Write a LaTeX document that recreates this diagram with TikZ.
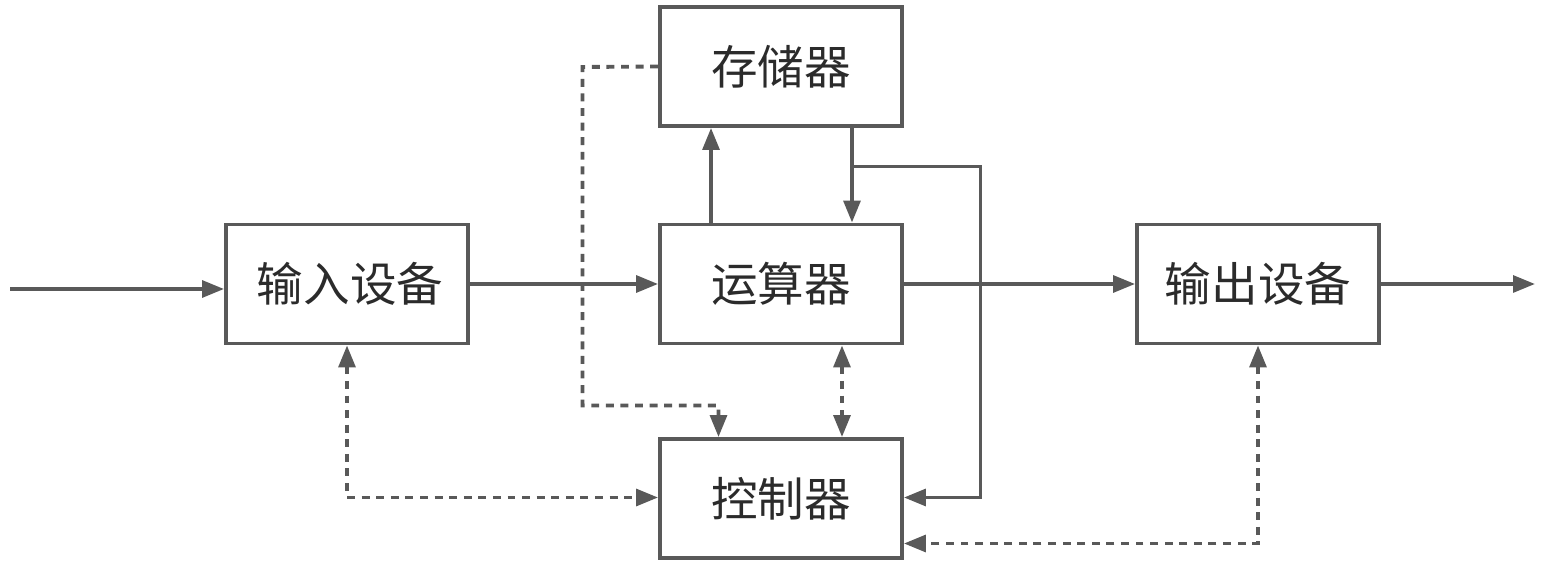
\documentclass[tikz,border=0pt]{standalone}
\usepackage{fontspec}
\newfontfamily\cjk{Noto Sans CJK SC}
\usetikzlibrary{arrows.meta}
\definecolor{linegray}{HTML}{595959}
\definecolor{textgray}{HTML}{2B2B2B}
\begin{document}
\begin{tikzpicture}[x=0.02cm, y=-0.02cm,
        box/.style={draw=linegray, line width=2.2pt, minimum width=4.84cm, minimum height=2.38cm,
            inner sep=0pt, text=textgray, font=\cjk\fontsize{26.5}{30}\selectfont},
        conn/.style={linegray, line width=2.2pt, -{Triangle[length=12.5pt, width=9.5pt]}},
        dconn/.style={conn, dash pattern=on 4.5pt off 3.8pt},
        both/.style={{Triangle[length=12.5pt, width=9.5pt]}-{Triangle[length=12.5pt, width=9.5pt]}}]
    \useasboundingbox (0,0) rectangle (1554,573);
    % nodes
    \node[box] (mem) at (781,66.5) {存储器};
    \node[box] (inp) at (347,284) {\hspace{0.12cm}输入设备};
    \node[box] (alu) at (781,284) {运算器};
    \node[box] (out) at (1258,284) {输出设备};
    \node[box] (ctl) at (781,498.5) {控制器};
    \coordinate (src) at (10,289);
    \coordinate (dst) at (1535,284);
    \coordinate (mem-down) at (852,166.5);
    % solid connectors
    \draw[conn] (src) -- (src -| inp.west);
    \draw[conn] (inp.east) -- (alu.west);
    \draw[conn] (alu.east) -- (out.west);
    \draw[conn] (out.east) -- (dst);
    \draw[conn] ([xshift=-1.4cm]alu.north) -- ([xshift=-1.4cm]mem.south);
    \draw[conn] ([xshift=1.42cm]mem.south) -- ([xshift=1.42cm]alu.north);
    \draw[conn] (mem-down) -- (980.5,166.5) -- (980.5,497.5) -- (ctl.east |- 0,497.5);
    % dashed connectors
    \draw[dconn] (mem.west) -- (582.5,67) -- (582.5,405.5) -- (718.5,405.5) -- ([xshift=-1.25cm]ctl.north);
    \draw[dconn, both] ([xshift=1.22cm]alu.south) -- ([xshift=1.22cm]ctl.north);
    \draw[dconn, both] (inp.south) -- (347,497.5) -- (ctl.west |- 0,497.5);
    \draw[dconn, both] (out.south) -- (1258,543.5) -- (ctl.east |- 0,543.5);
\end{tikzpicture}
\end{document}
